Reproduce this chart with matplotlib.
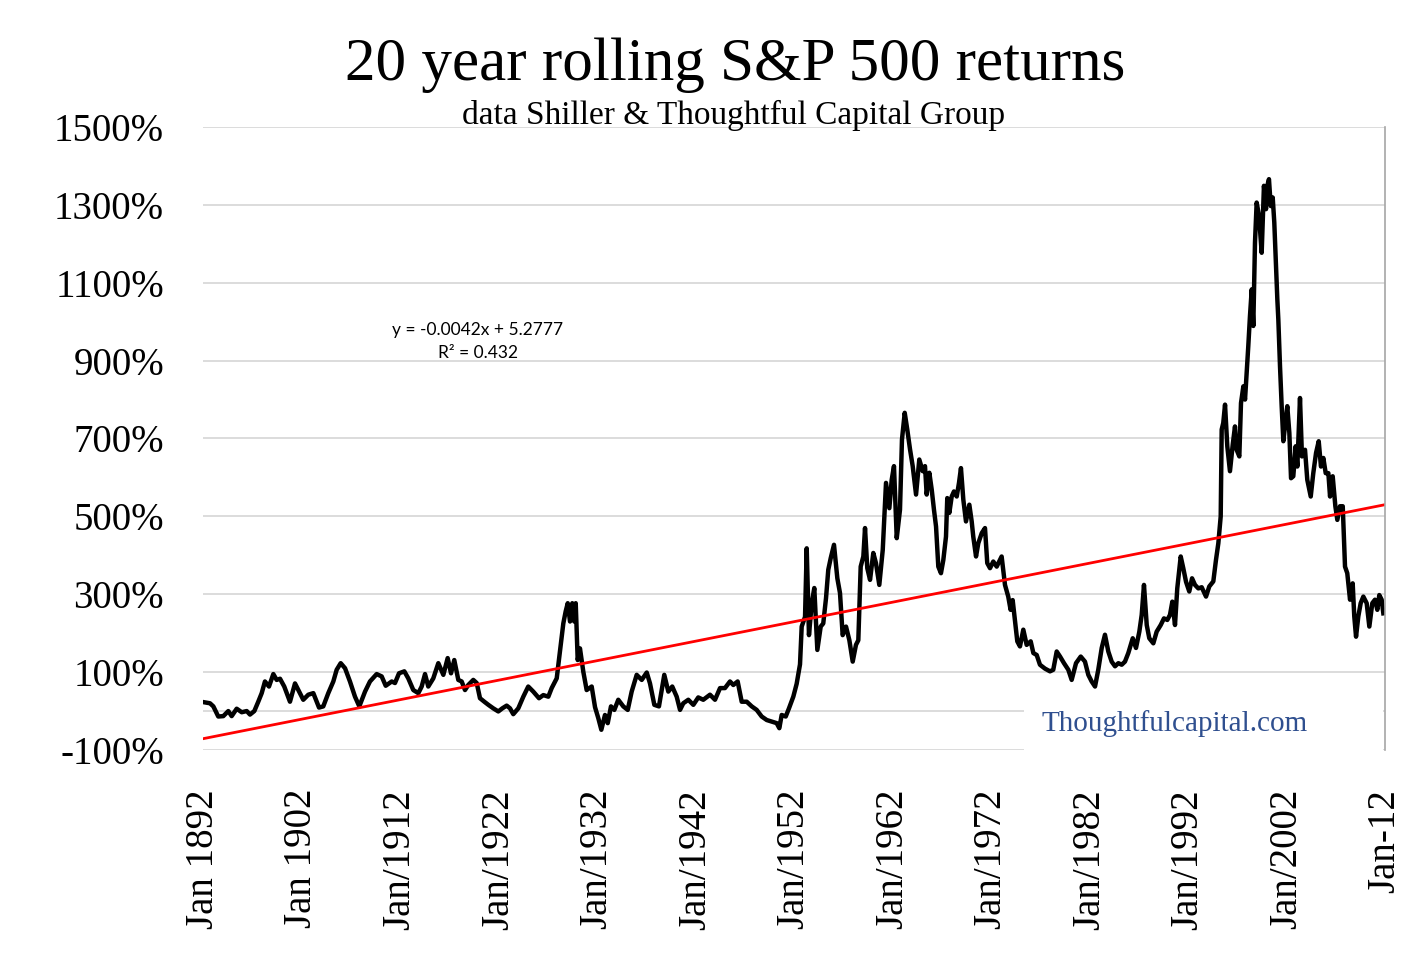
import numpy as np
import matplotlib
matplotlib.use("Agg")
import matplotlib.pyplot as plt
from matplotlib.patches import Rectangle

# ---- data (20-year rolling return, %) ----
years = [
    1892.03, 1892.71, 1893.05, 1893.55, 1894.06, 1894.57, 1894.91, 1895.42, 1895.93, 1896.44,
    1896.77, 1897.21, 1897.61, 1897.96, 1898.29, 1898.70, 1899.14, 1899.48, 1899.82, 1900.25,
    1900.83, 1901.34, 1901.68, 1902.18, 1902.69, 1903.20, 1903.78, 1904.21, 1904.72, 1905.23,
    1905.57, 1905.98, 1906.42, 1906.92, 1907.43, 1907.87, 1908.45, 1908.95, 1909.63, 1910.14,
    1910.55, 1911.16, 1911.49, 1911.90, 1912.44, 1912.84, 1913.35, 1913.86, 1914.20, 1914.54,
    1914.87, 1915.38, 1915.89, 1916.40, 1916.84, 1917.18, 1917.51, 1917.92, 1918.26, 1918.60,
    1918.93, 1919.44, 1919.79, 1920.12, 1920.56, 1920.97, 1921.47, 1921.98, 1922.39, 1922.83,
    1923.17, 1923.50, 1924.01, 1924.52, 1925.02, 1925.53, 1926.11, 1926.55, 1927.06, 1927.40,
    1927.91, 1928.24, 1928.58, 1928.82, 1929.03, 1929.26, 1929.49, 1929.69, 1929.84, 1930.04,
    1930.27, 1930.61, 1930.95, 1931.46, 1931.80, 1932.13, 1932.44, 1932.81, 1933.09, 1933.42,
    1933.76, 1934.16, 1934.67, 1935.12, 1935.52, 1936.03, 1936.54, 1937.05, 1937.38, 1937.82,
    1938.29, 1938.83, 1939.24, 1939.64, 1940.09, 1940.43, 1940.76, 1941.27, 1941.78, 1942.28,
    1942.79, 1943.47, 1943.98, 1944.49, 1944.99, 1945.50, 1945.84, 1946.28, 1946.69, 1947.20,
    1947.71, 1948.21, 1948.72, 1949.23, 1949.74, 1950.24, 1950.51, 1950.75, 1951.16, 1951.49,
    1951.93, 1952.27, 1952.61, 1952.78, 1953.12, 1953.29, 1953.52, 1953.80, 1954.06, 1954.37,
    1954.71, 1954.97, 1955.25, 1955.48, 1955.73, 1956.06, 1956.40, 1956.67, 1956.94, 1957.28,
    1957.62, 1957.96, 1958.29, 1958.53, 1958.77, 1959.04, 1959.21, 1959.44, 1959.72, 1960.05,
    1960.32, 1960.66, 1961.01, 1961.34, 1961.68, 1961.92, 1962.15, 1962.43, 1962.76, 1962.96,
    1963.24, 1963.50, 1963.78, 1964.05, 1964.39, 1964.72, 1965.07, 1965.30, 1965.47, 1965.74,
    1965.98, 1966.21, 1966.42, 1966.65, 1966.92, 1967.16, 1967.43, 1967.56, 1967.77, 1968.01,
    1968.24, 1968.52, 1968.75, 1968.95, 1969.19, 1969.46, 1969.80, 1970.04, 1970.20, 1970.48,
    1970.71, 1971.06, 1971.39, 1971.62, 1971.90, 1972.23, 1972.58, 1973.08, 1973.42, 1973.75,
    1973.99, 1974.20, 1974.44, 1974.67, 1974.94, 1975.28, 1975.62, 1976.03, 1976.30, 1976.64,
    1976.97, 1977.48, 1977.99, 1978.32, 1978.67, 1979.01, 1979.41, 1979.85, 1980.19, 1980.63,
    1981.11, 1981.54, 1981.88, 1982.22, 1982.56, 1982.89, 1983.24, 1983.57, 1983.91, 1984.25,
    1984.59, 1984.93, 1985.27, 1985.60, 1985.94, 1986.39, 1986.72, 1987.06, 1987.30, 1987.53,
    1987.81, 1988.07, 1988.48, 1988.82, 1989.23, 1989.56, 1989.90, 1990.17, 1990.41, 1990.68,
    1990.91, 1991.26, 1991.52, 1991.80, 1992.13, 1992.41, 1992.71, 1993.05, 1993.39, 1993.83,
    1994.16, 1994.57, 1994.84, 1995.08, 1995.32, 1995.42, 1995.58, 1995.76, 1995.99, 1996.26,
    1996.54, 1996.77, 1996.94, 1997.21, 1997.38, 1997.62, 1997.79, 1997.96, 1998.12, 1998.29,
    1998.47, 1998.63, 1998.80, 1998.97, 1999.21, 1999.48, 1999.71, 1999.92, 2000.05, 2000.22,
    2000.40, 2000.60, 2000.76, 2000.93, 2001.07, 2001.17, 2001.34, 2001.51, 2001.68, 2001.92,
    2002.08, 2002.29, 2002.46, 2002.69, 2002.93, 2003.10, 2003.37, 2003.57, 2003.88, 2004.11,
    2004.46, 2004.72, 2005.00, 2005.27, 2005.50, 2005.74, 2005.98, 2006.25, 2006.42, 2006.69,
    2006.96, 2007.16, 2007.43, 2007.71, 2007.94, 2008.17, 2008.45, 2008.72, 2008.88, 2009.06,
    2009.29, 2009.53, 2009.80, 2010.14, 2010.41, 2010.71, 2010.98, 2011.22, 2011.42, 2011.66,
    2011.83,
]
returns_pct = [
    23, 20, 12, -14, -13, 0, -13, 6, -3, 0,
    -9, 0, 24, 46, 76, 63, 95, 80, 83, 63,
    24, 71, 54, 29, 42, 46, 9, 12, 46, 76,
    106, 123, 110, 76, 37, 12, 50, 76, 95, 89,
    65, 76, 72, 97, 102, 84, 54, 46, 63, 95,
    63, 84, 123, 93, 136, 97, 131, 80, 76, 54,
    67, 80, 72, 33, 24, 16, 7, -1, 7, 14,
    7, -8, 7, 37, 63, 50, 33, 41, 37, 59,
    84, 153, 225, 256, 277, 230, 277, 230, 277, 131,
    161, 101, 54, 63, 10, -18, -48, -10, -31, 12,
    3, 29, 12, 3, 50, 93, 80, 99, 71, 16,
    12, 93, 50, 63, 37, 3, 20, 29, 16, 35,
    29, 42, 29, 59, 59, 76, 67, 76, 24, 24,
    12, 3, -14, -23, -27, -31, -44, -10, -14, 7,
    37, 70, 120, 217, 242, 418, 195, 277, 316, 157,
    217, 225, 290, 363, 393, 427, 341, 303, 195, 217,
    182, 127, 170, 182, 371, 397, 470, 367, 337, 406,
    380, 324, 414, 586, 521, 594, 629, 444, 517, 697,
    766, 723, 672, 629, 556, 646, 616, 629, 556, 612,
    569, 517, 474, 371, 354, 388, 448, 547, 509, 551,
    564, 551, 586, 624, 543, 487, 530, 487, 448, 397,
    431, 457, 470, 380, 367, 384, 371, 397, 324, 294,
    260, 285, 230, 179, 166, 209, 170, 179, 149, 144,
    119, 109, 102, 106, 153, 140, 123, 106, 80, 123,
    140, 127, 93, 76, 63, 106, 162, 196, 153, 127,
    115, 123, 119, 127, 149, 187, 162, 204, 247, 324,
    221, 187, 174, 204, 221, 238, 234, 247, 281, 221,
    315, 397, 367, 332, 307, 341, 324, 315, 318, 294,
    320, 333, 388, 431, 500, 723, 740, 787, 680, 616,
    684, 731, 671, 654, 791, 834, 800, 869, 937, 1014,
    1083, 989, 1203, 1306, 1272, 1177, 1349, 1289, 1349, 1366,
    1297, 1319, 1255, 1143, 1057, 1006, 886, 783, 693, 749,
    783, 714, 598, 603, 680, 628, 804, 654, 671, 594,
    551, 611, 663, 693, 628, 650, 611, 611, 551, 603,
    526, 491, 526, 526, 371, 354, 286, 328, 243, 191,
    243, 277, 294, 277, 217, 277, 286, 260, 298, 286,
    251,
]

# linear trend as displayed (start / end values)
trend_years = [1892, 2012]
trend_pct = [-71, 530]

tick_years = [1892, 1902, 1912, 1922, 1932, 1942, 1952, 1962, 1972, 1982, 1992, 2002, 2012]
tick_labels = ["Jan 1892", "Jan 1902", "Jan/1912", "Jan/1922", "Jan/1932", "Jan/1942",
               "Jan/1952", "Jan/1962", "Jan/1972", "Jan/1982", "Jan/1992", "Jan/2002", "Jan-12"]
y_ticks = [-100, 100, 300, 500, 700, 900, 1100, 1300, 1500]

title = "20 year rolling S&P 500 returns"
subtitle = "data Shiller & Thoughtful Capital Group"
eq_text = "y = -0.0042x + 5.2777\nR\u00b2 = 0.432"
watermark = "Thoughtfulcapital.com"

# ---- figure ----
SERIF = ["Liberation Serif", "DejaVu Serif"]
W, H = 1409, 958
fig = plt.figure(figsize=(W / 100, H / 100), dpi=100)
ax = fig.add_axes([203 / W, 1 - 750 / H, (1385 - 203) / W, (750 - 127) / H])

ax.set_xlim(1892, 2012)
ax.set_ylim(-100, 1500)

grid_c = "#D9D9D9"
for v in y_ticks + [0]:
    ax.axhline(v, color=grid_c, lw=1.3, zorder=1)

ax.plot(years, returns_pct, color="black", lw=3.2, solid_joinstyle="round", zorder=3)
ax.plot(trend_years, trend_pct, color="#FF0000", lw=2.0, zorder=4)

for s in ["top", "left", "bottom"]:
    ax.spines[s].set_visible(False)
ax.spines["right"].set_color("#A6A6A6")
ax.spines["right"].set_linewidth(1.2)
ax.spines["right"].set_zorder(7)

ax.set_yticks(y_ticks)
ax.set_yticklabels([f"{v}%" for v in y_ticks], fontfamily=SERIF, fontsize=28)
ax.set_xticks(tick_years)
ax.set_xticklabels(tick_labels, rotation=90, fontfamily=SERIF, fontsize=28)
ax.tick_params(axis="y", length=0, pad=28)
ax.tick_params(axis="x", length=0, pad=28)

fig.text(735 / W, 1 - 80 / H, title, ha="center", va="baseline",
         fontfamily=SERIF, fontsize=44)
fig.text(734 / W, 1 - 124 / H, subtitle, ha="center", va="baseline",
         fontfamily=SERIF, fontsize=24)

ax.text(1919.9, 950, eq_text, ha="center", va="center", fontsize=12.5,
        fontfamily=["Lato", "DejaVu Sans"], linespacing=1.55, zorder=5)

# white box behind the watermark (covers the lower grid lines there)
ax.add_patch(Rectangle((1024 / W, 1 - 752 / H), (1383 - 1024) / W, 50 / H,
                       transform=fig.transFigure, facecolor="white",
                       edgecolor="none", zorder=5))
fig.text(1175 / W, 1 - 724 / H, watermark, ha="center", va="center",
         fontfamily=SERIF, fontsize=21, color="#2F4F8F", zorder=6)

fig.savefig("out.png", dpi=100)
